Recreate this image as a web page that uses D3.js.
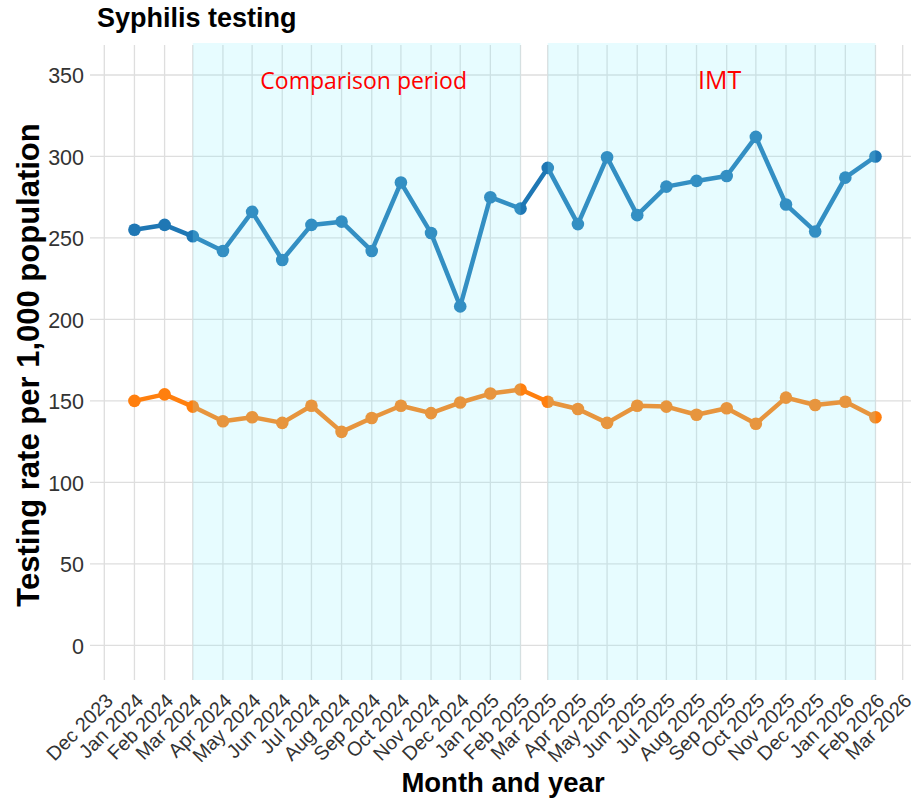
<!DOCTYPE html>
<html>
<head>
<meta charset="utf-8">
<script src="https://cdn.jsdelivr.net/npm/d3@7"></script>
<style>
  html, body { margin: 0; padding: 0; background: #fff; }
  svg { display: block; }
</style>
</head>
<body>
<svg id="chart" width="915" height="798"></svg>
<script>
// ---- Data ----
const months = [
  "2024-01","2024-02","2024-03","2024-04","2024-05","2024-06","2024-07","2024-08",
  "2024-09","2024-10","2024-11","2024-12","2025-01","2025-02","2025-03","2025-04",
  "2025-05","2025-06","2025-07","2025-08","2025-09","2025-10","2025-11","2025-12",
  "2026-01","2026-02"
];
const blueSeries = [255, 258, 251, 242, 266, 236.5, 258, 260, 242, 284, 253, 208, 275,
  268, 293, 258.5, 299.5, 264, 281.5, 285, 288, 312, 270.5, 254, 287, 300];
const orangeSeries = [150, 154, 146.5, 137.5, 140, 136.5, 147, 131, 139.5, 147, 142.5, 149, 154.5,
  157, 149.5, 145, 136.5, 147, 146.5, 141.5, 145.5, 136, 152, 147.5, 149.5, 140];
const tickMonths = ["2023-12","2024-01","2024-02","2024-03","2024-04","2024-05","2024-06",
  "2024-07","2024-08","2024-09","2024-10","2024-11","2024-12","2025-01","2025-02","2025-03",
  "2025-04","2025-05","2025-06","2025-07","2025-08","2025-09","2025-10","2025-11","2025-12",
  "2026-01","2026-02","2026-03"];
const yTicks = [0, 50, 100, 150, 200, 250, 300, 350];
const periods = [
  { label: "Comparison period", start: "2024-03", end: "2025-02" },
  { label: "IMT", start: "2025-03", end: "2026-02" }
];
const titleText = "Syphilis testing";
const xTitle = "Month and year";
const yTitle = "Testing rate per 1,000 population";

// ---- Setup ----
const parse = d3.timeParse("%Y-%m");
const fmt = d3.timeFormat("%b %Y");
const svg = d3.select("#chart");

const panel = { left: 90, right: 911, top: 43, bottom: 680 };

const x = d3.scaleTime()
  .domain([parse("2023-12"), parse("2026-03")])
  .range([104.3, 902.7]);
const y = d3.scaleLinear()
  .domain([0, 350])
  .range([645.3, 75]);

// Gridlines
const gGrid = svg.append("g");
gGrid.selectAll("line.h").data(yTicks).join("line")
  .attr("x1", panel.left).attr("x2", panel.right)
  .attr("y1", d => y(d)).attr("y2", d => y(d))
  .attr("stroke", "#dedede").attr("stroke-width", 1.3);
gGrid.selectAll("line.v").data(tickMonths).join("line")
  .attr("x1", d => x(parse(d))).attr("x2", d => x(parse(d)))
  .attr("y1", panel.top + 2).attr("y2", panel.bottom)
  .attr("stroke", "#dedede").attr("stroke-width", 1.3);

// Series
const dates = months.map(parse);
const line = d3.line().x((d, i) => x(dates[i])).y(d => y(d));
function drawSeries(vals, color) {
  svg.append("path").datum(vals)
    .attr("d", line).attr("fill", "none")
    .attr("stroke", color).attr("stroke-width", 4.5)
    .attr("stroke-linejoin", "round");
  svg.append("g").selectAll("circle").data(vals).join("circle")
    .attr("cx", (d, i) => x(dates[i])).attr("cy", d => y(d))
    .attr("r", 6.3).attr("fill", color);
}
drawSeries(blueSeries, "#1f77b4");
drawSeries(orangeSeries, "#ff7f0e");

// Shaded periods (overlay)
svg.append("g").selectAll("rect").data(periods).join("rect")
  .attr("x", d => x(parse(d.start)))
  .attr("width", d => x(parse(d.end)) - x(parse(d.start)))
  .attr("y", panel.top).attr("height", panel.bottom - panel.top)
  .attr("fill", "rgb(135,240,255)").attr("fill-opacity", 0.2);

// Period labels
svg.append("g").selectAll("text").data(periods).join("text")
  .attr("x", d => (x(parse(d.start)) + x(parse(d.end))) / 2 + (d.label === "IMT" ? 8 : 7))
  .attr("y", 89)
  .attr("text-anchor", "middle")
  .attr("font-family", "'Open Sans', 'Noto Sans', sans-serif")
  .attr("font-size", d => d.label === "IMT" ? 25 : 23)
  .attr("fill", "#ff0000")
  .text(d => d.label);

// Y axis labels
const yAxis = d3.axisLeft(y).tickValues(yTicks).tickSize(0).tickPadding(0);
const gy = svg.append("g").attr("transform", "translate(84,0)").call(yAxis);
gy.select(".domain").remove();
gy.selectAll("text")
  .attr("font-family", "'Liberation Sans', Arial, sans-serif")
  .attr("font-size", 21.5).attr("fill", "#333").attr("dy", "0.36em");

// X axis labels
const xAxis = d3.axisBottom(x).tickValues(tickMonths.map(parse)).tickFormat(fmt).tickSize(0);
const gx = svg.append("g").call(xAxis);
gx.select(".domain").remove();
gx.selectAll(".tick").attr("transform", d => `translate(${x(d)},0)`);
gx.selectAll("text")
  .attr("font-family", "'Liberation Sans', Arial, sans-serif")
  .attr("font-size", 19.8).attr("fill", "#333")
  .attr("text-anchor", "end")
  .attr("y", null).attr("dy", null)
  .attr("transform", "translate(10,702) rotate(-45)");

// Titles
svg.append("text")
  .attr("x", 97).attr("y", 27)
  .attr("font-family", "'Liberation Sans', Arial, sans-serif")
  .attr("font-weight", "bold").attr("font-size", 27).attr("fill", "#000")
  .text(titleText);
svg.append("text")
  .attr("x", 503).attr("y", 792)
  .attr("text-anchor", "middle")
  .attr("font-family", "'Liberation Sans', Arial, sans-serif")
  .attr("font-weight", "bold").attr("font-size", 27.5).attr("fill", "#000")
  .text(xTitle);
svg.append("text")
  .attr("transform", "translate(39,365) rotate(-90)")
  .attr("text-anchor", "middle")
  .attr("font-family", "'Liberation Sans', Arial, sans-serif")
  .attr("font-weight", "bold").attr("font-size", 31).attr("fill", "#000")
  .text(yTitle);
</script>
</body>
</html>
